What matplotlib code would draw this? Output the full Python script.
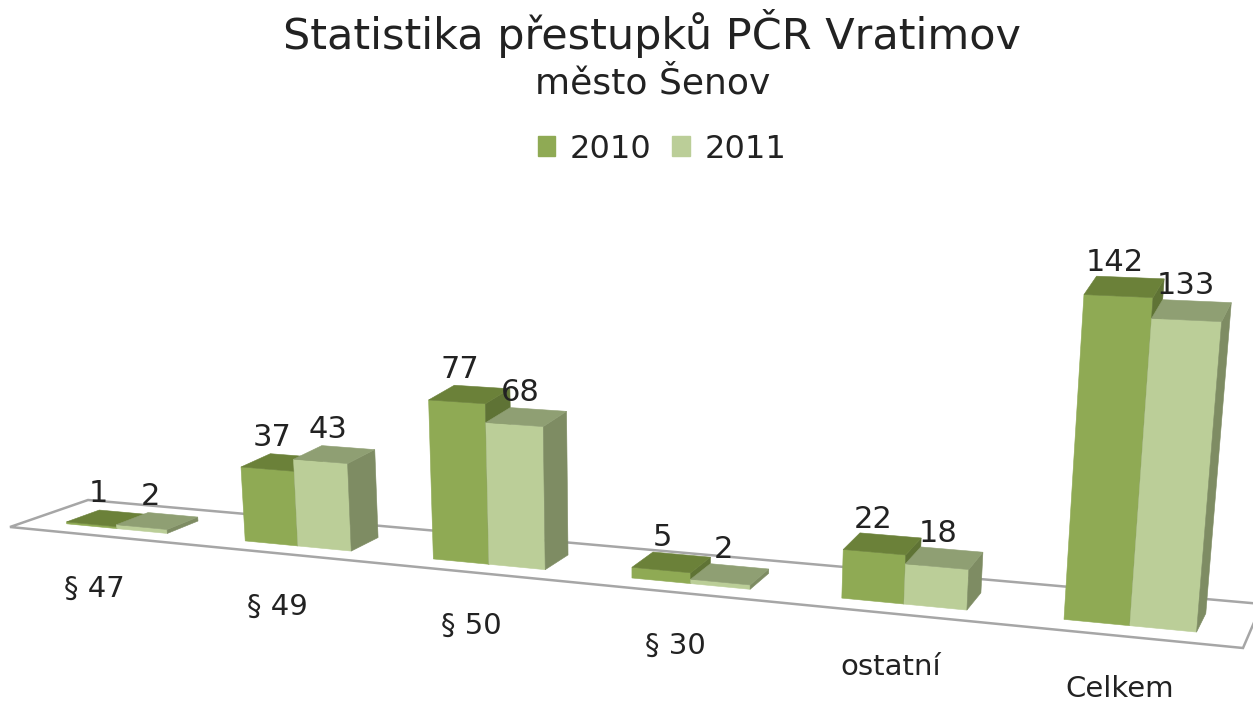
import matplotlib
matplotlib.use("Agg")
import matplotlib.pyplot as plt
from matplotlib.patches import Patch, Polygon

categories = ["§ 47", "§ 49", "§ 50", "§ 30", "ostatní", "Celkem"]
years = ["2010", "2011"]
values_2010 = [1, 37, 77, 5, 22, 142]
values_2011 = [2, 43, 68, 2, 18, 133]

# front, top, side shade of each series
colors_2010 = ("#8FAA54", "#6B8139", "#5F7335")
colors_2011 = ("#BBCE98", "#8F9F73", "#7E8C63")

plt.rcParams["font.family"] = ["DejaVu Sans"]

# floor corners in image pixels
FL, FR, BL, BR = (10, 527), (1243, 648), (88, 500), (1262, 604)
PERSP = 1.18
BAR_W = 0.285
W_FRONT, W_BACK = 0.25, 0.68


def floor(u, w):
    t = u / len(categories)
    s = t / (t + PERSP * (1 - t))
    x = FL[0]*(1-s)*(1-w) + FR[0]*s*(1-w) + BL[0]*(1-s)*w + BR[0]*s*w
    y = FL[1]*(1-s)*(1-w) + FR[1]*s*(1-w) + BL[1]*(1-s)*w + BR[1]*s*w
    return x, y


def project(u, w, value):
    x, y = floor(u, w)
    h = value * (2.0 + (x - 250) * 0.3 / 850)
    return x + (x - 640) * h / 6900, y - h


def draw_bar(ax, u0, u1, value, shades):
    front, top, side = shades
    faces = [
        ([(u0, W_FRONT, 0), (u1, W_FRONT, 0), (u1, W_FRONT, value), (u0, W_FRONT, value)], front),
        ([(u1, W_FRONT, 0), (u1, W_BACK, 0), (u1, W_BACK, value), (u1, W_FRONT, value)], side),
        ([(u0, W_FRONT, value), (u1, W_FRONT, value), (u1, W_BACK, value), (u0, W_BACK, value)], top),
    ]
    for corners, color in faces:
        ax.add_patch(Polygon([project(*c) for c in corners], closed=True,
                             facecolor=color, edgecolor=color, linewidth=0.4, zorder=3))


fig = plt.figure(figsize=(12.53, 7.01), dpi=100)
ax = fig.add_axes([0, 0, 1, 1])
ax.set_xlim(0, 1253)
ax.set_ylim(701, 0)
ax.axis("off")

ax.add_patch(Polygon([FL, FR, BR, BL], closed=True, facecolor="white",
                     edgecolor="#A6A6A6", linewidth=1.8, zorder=1))

for i, cat in enumerate(categories):
    mid = i + 0.5
    draw_bar(ax, mid - BAR_W, mid, values_2010[i], colors_2010)
    draw_bar(ax, mid, mid + BAR_W, values_2011[i], colors_2011)

    x, y = project(mid - BAR_W / 2, 0.46, values_2010[i])
    ax.text(x - 9, y - 25, str(values_2010[i]), ha="center", va="center",
            fontsize=22, color="#222222", zorder=4)
    x, y = project(mid + BAR_W / 2, 0.46, values_2011[i])
    ax.text(x - 6, y - 25, str(values_2011[i]), ha="center", va="center",
            fontsize=22, color="#222222", zorder=4)

    x, y = floor(mid, 0)
    ax.text(x - 4, y + 53, cat, ha="center", va="center", fontsize=21, color="#222222")

ax.text(652, 34, "Statistika přestupků PČR Vratimov", ha="center", va="center",
        fontsize=31, color="#222222")
ax.text(653, 83, "město Šenov", ha="center", va="center", fontsize=26, color="#222222")

handles = [Patch(color=colors_2010[0], label=years[0]), Patch(color=colors_2011[0], label=years[1])]
fig.legend(handles=handles, ncol=2, loc="center", bbox_to_anchor=(662 / 1253, 1 - 149 / 701),
           frameon=False, fontsize=23, handlelength=0.56, handleheight=0.56,
           handletextpad=0.45, columnspacing=0.65, labelcolor="#222222")

fig.savefig("out.png", dpi=100)
